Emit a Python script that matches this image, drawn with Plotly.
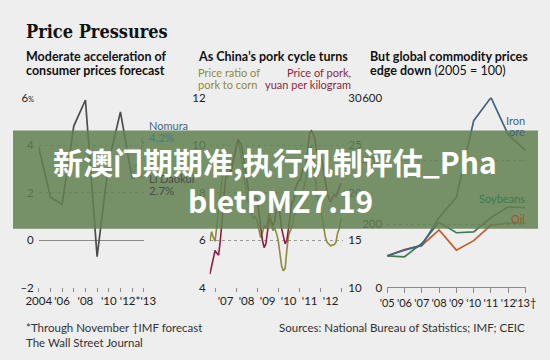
import plotly.graph_objects as go

# ---------------- data ----------------
# Panel 1: China CPI, annual % change
cpi_years = [2004, 2005, 2006, 2007, 2008, 2009, 2010, 2011, 2012]
cpi_values = [3.9, 1.8, 1.5, 4.8, 5.9, -0.7, 3.3, 5.4, 2.6]
forecast_years = [2012, 2013]
nomura_values = [2.6, 4.2]
lidaokui_values = [2.6, 2.7]
p1_tick_vals = [2004, 2006, 2008, 2010, 2012.5]
p1_tick_text = ["2004", "'06", "'08", "'10", "'12*'13"]

# Panel 2: monthly, Oct 2006 - Jan 2013
pork_ratio = [
    5.95, 6.35, 6.1,
    5.95, 6.6, 7.2, 7.8, 8.6, 9.2, 9.0, 8.6, 8.8, 9.0, 9.3, 9.6,
    10.0, 10.2, 9.9, 9.5, 9.0, 8.4, 7.9, 7.6, 7.3, 7.0, 6.9, 7.0,
    6.8, 6.4, 6.1, 6.3, 6.6, 6.5, 6.9, 7.2, 6.8, 6.4, 6.5, 6.3,
    6.0, 5.3, 4.9, 4.7, 4.8, 5.6, 6.2, 6.4, 6.6, 7.0, 7.2, 7.4,
    7.6, 7.8, 8.0, 8.3, 8.6, 9.2, 9.8, 10.0, 9.5, 8.8, 8.0, 7.6,
    7.3, 7.0, 6.6, 6.1, 5.9, 5.8, 5.75, 5.8, 5.8, 5.9, 6.3, 6.5,
    6.9,
]
pork_price = [
    11.4, 12.2, 13.0,
    13.9, 13.6, 13.4, 15.0, 17.5, 19.5, 21.5, 22.8, 22.5, 22.0, 23.0, 23.8,
    24.8, 25.6, 25.3, 25.0, 24.0, 22.8, 21.5, 20.3, 20.0, 19.8, 19.3, 19.5,
    19.3, 17.8, 16.0, 15.0, 14.2, 14.6, 16.0, 17.3, 17.0, 16.5, 17.0, 18.2,
    18.6, 17.8, 16.2, 15.2, 14.6, 15.0, 16.5, 18.0, 19.0, 19.2, 20.5, 21.0,
    21.2, 21.5, 22.5, 22.4, 23.0, 25.0, 26.3, 26.5, 26.2, 25.6, 24.4, 24.0,
    24.3, 23.4, 22.2, 21.0, 20.0, 19.3, 19.0, 19.5, 19.8, 19.6, 20.0, 20.6,
    21.0,
]
months = [2006 + 9 / 12 + i / 12 for i in range(len(pork_price))]
p2_tick_vals = [2007.5, 2008.5, 2009.5, 2010.5, 2011.5, 2012.5]
p2_tick_text = ["'07", "'08", "'09", "'10", "'11", "'12"]

# Panel 3: commodity price indexes, 2005 = 100
com_years = [2005, 2006, 2007, 2008, 2009, 2010, 2011, 2012, 2013]
iron_ore = [100, 118, 133, 221, 285, 527, 600, 482, 433]
soybeans = [100, 97, 139, 206, 173, 176, 221, 255, 252]
oil = [100, 120, 133, 182, 118, 148, 197, 203, 203]
p3_tick_text = ["'05", "'06", "'07", "'08", "'09", "'10", "'11", "'12", "'13\u2020"]

# ---------------- styling ----------------
W, H = 550, 360
BG = "#eeeeee"
SANS = "Lato, Roboto, sans-serif"
TICKFONT = dict(family=SANS, size=11.5, color="#222222")
GRID = "#9a9a9a"
AXLINE = "#8a8a8a"

OLIVE = "#8e8a3c"
CRIMSON = "#8c1f40"
IRON = "#3f6582"
SOY = "#3e7a52"
OIL = "#c65a2e"


def px(x):
    return x / W


def py(y):
    return 1 - y / H


YDOM = [py(291), py(94)]

fig = go.Figure()

# Panel 1
fig.add_trace(go.Scatter(x=cpi_years, y=cpi_values, mode="lines",
                         line=dict(color="#4d4d4d", width=1.7),
                         xaxis="x", yaxis="y", showlegend=False))
fig.add_trace(go.Scatter(x=forecast_years, y=nomura_values, mode="lines+markers",
                         line=dict(color="#3f8080", width=1.4, dash="dot"),
                         marker=dict(symbol="circle-open", size=[0, 5], color="#3f8080"),
                         xaxis="x", yaxis="y", showlegend=False))
fig.add_trace(go.Scatter(x=forecast_years, y=lidaokui_values, mode="lines+markers",
                         line=dict(color="#4d4d4d", width=1.4, dash="dot"),
                         marker=dict(symbol="circle-open", size=[0, 5], color="#4d4d4d"),
                         xaxis="x", yaxis="y", showlegend=False))

# Panel 2
fig.add_trace(go.Scatter(x=months, y=pork_ratio, mode="lines",
                         line=dict(color=OLIVE, width=1.6),
                         xaxis="x2", yaxis="y2", showlegend=False))
fig.add_trace(go.Scatter(x=months, y=pork_price, mode="lines",
                         line=dict(color=CRIMSON, width=1.6),
                         xaxis="x2", yaxis="y3", showlegend=False))

# Panel 3
fig.add_trace(go.Scatter(x=com_years, y=oil, mode="lines",
                         line=dict(color=OIL, width=1.7),
                         xaxis="x3", yaxis="y4", showlegend=False))
fig.add_trace(go.Scatter(x=com_years, y=soybeans, mode="lines",
                         line=dict(color=SOY, width=1.7),
                         xaxis="x3", yaxis="y4", showlegend=False))
fig.add_trace(go.Scatter(x=com_years, y=iron_ore, mode="lines",
                         line=dict(color=IRON, width=1.7),
                         xaxis="x3", yaxis="y4", showlegend=False))

common_x = dict(showgrid=False, zeroline=False, showline=False, linecolor=AXLINE,
                linewidth=1, ticks="", tickfont=TICKFONT, fixedrange=True,
                ticklabelstandoff=5, tickangle=0)
common_y = dict(showgrid=True, gridcolor=GRID, griddash="dot", gridwidth=1,
                zeroline=False, showline=False, ticks="", tickfont=TICKFONT,
                fixedrange=True, domain=YDOM)

fig.update_layout(
    width=W, height=H,
    margin=dict(l=0, r=0, t=0, b=0),
    paper_bgcolor=BG, plot_bgcolor=BG,
    xaxis=dict(common_x, domain=[px(27), px(137)], range=[2004, 2013], anchor="y",
               tickvals=p1_tick_vals, ticktext=p1_tick_text,
               minor=dict(tickvals=cpi_years + [2013], ticks="outside", ticklen=4,
                          tickcolor=AXLINE, showgrid=False)),
    yaxis=dict(common_y, range=[-2, 6], anchor="x",
               tickvals=[-2, 0, 2, 4, 6],
               ticktext=["\u20132", "0", "2", "4", "6<span style='font-size:7px'>%</span>"],
               zeroline=True, zerolinecolor="#8a8a8a", zerolinewidth=1.3,
               ticklabelstandoff=4),
    xaxis2=dict(common_x, domain=[px(206), px(346)], range=[2006.74, 2013.1], anchor="y2",
                tickvals=p2_tick_vals, ticktext=p2_tick_text,
                minor=dict(tickvals=[2007, 2008, 2009, 2010, 2011, 2012, 2013],
                           ticks="outside", ticklen=4, tickcolor=AXLINE, showgrid=False)),
    yaxis2=dict(common_y, range=[4, 12], anchor="x2", tickvals=[4, 6, 8, 10, 12],
                ticklabelstandoff=3),
    yaxis3=dict(common_y, range=[10, 30], anchor="x2", overlaying="y2", side="right",
                showgrid=False, tickvals=[10, 15, 20, 25, 30], ticklabelstandoff=4),
    xaxis3=dict(common_x, domain=[px(392), px(537)], range=[2005, 2013], anchor="y4",
                showline=True, tickfont=dict(TICKFONT, size=11),
                tickvals=com_years, ticktext=p3_tick_text,
                minor=dict(tickvals=com_years, ticks="outside", ticklen=5,
                           tickcolor=AXLINE, showgrid=False)),
    yaxis4=dict(common_y, range=[0, 600], anchor="x3", tickvals=[0, 200, 400, 600],
                ticklabelstandoff=4),
)


def ann(text, x, y, size=12, color="#111111", bold=False, xanchor="left",
        family=SANS):
    fig.add_annotation(text=(f"<b>{text}</b>" if bold else text), x=px(x), y=py(y),
                       xref="paper", yref="paper", xanchor=xanchor, yanchor="middle",
                       showarrow=False, align=xanchor if xanchor != "center" else "center",
                       font=dict(size=size, color=color, family=family))


# Titles
ann("Price Pressures", 11, 25, size=18, bold=True,
    family="DejaVu Serif Condensed, DejaVu Serif, serif")
ann("Moderate acceleration of", 12, 51, size=12.5, bold=True)
ann("consumer prices forecast", 12, 66, size=12.5, bold=True)
ann("As China\u2019s pork cycle turns", 192, 51, size=12.5, bold=True)
ann("Price ratio of", 192, 68, size=11, color=OLIVE)
ann("pork to corn", 192, 80, size=11, color=OLIVE)
ann("Price of pork,", 356, 68, size=11, color=CRIMSON, xanchor="right")
ann("yuan per kilogram", 356, 80, size=11, color=CRIMSON, xanchor="right")
ann("But global commodity prices", 372, 51, size=12.5, bold=True)
ann("<b>edge down</b> (2005 = 100)", 372, 66, size=12.5)

# In-chart labels
ann("Nomura", 140, 123, size=11, color=IRON)
ann("4.2%", 140, 135, size=11.5, color="#3f8080")
ann("Li Daokui", 140, 178, size=11, color="#4d4d4d")
ann("2.7%", 140, 190, size=11.5, color="#4d4d4d")
ann("Iron", 538, 118, size=11, color=IRON, xanchor="right")
ann("ore", 538, 129, size=11, color=IRON, xanchor="right")
ann("Soybeans", 538, 199, size=11, color=SOY, xanchor="right")
ann("Oil", 538, 219, size=11, color="#a5532d", xanchor="right")

# Footer
ann("*Through November \u2020IMF forecast", 12, 333, size=11.5, color="#333333")
ann("The Wall Street Journal", 12, 348, size=11.5, color="#333333")
ann("Sources: National Bureau of Statistics; IMF; CEIC", 538, 333, size=11.5,
    color="#333333", xanchor="right")

# Overlay banner
fig.add_shape(type="rect", xref="paper", yref="paper", x0=0, x1=1,
              y0=py(230), y1=py(128), fillcolor="rgba(98,128,82,0.86)",
              line=dict(width=0), layer="above")
fig.add_annotation(text="<b>新澳门期期准,执行机制评估_Pha</b>", x=px(274), y=py(160),
                   xref="paper", yref="paper", showarrow=False, xanchor="center",
                   yanchor="middle",
                   font=dict(size=30, color="white", family="Noto Sans CJK SC"))
fig.add_annotation(text="<b>bletPMZ7.19</b>", x=px(280), y=py(200),
                   xref="paper", yref="paper", showarrow=False, xanchor="center",
                   yanchor="middle",
                   font=dict(size=30, color="white", family="Noto Sans CJK SC"))

fig.write_html("out.html", config=dict(displayModeBar=False),
               post_script="document.body.style.margin='0';")
